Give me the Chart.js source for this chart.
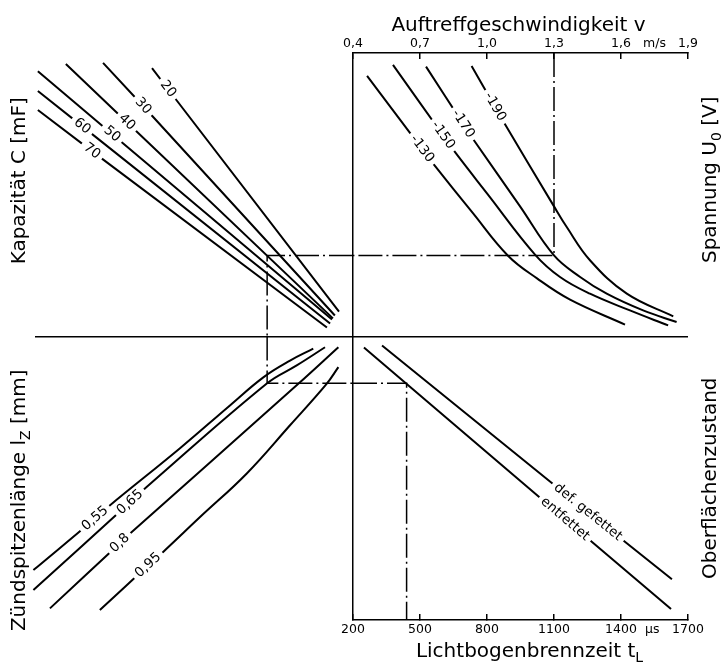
<!DOCTYPE html>
<html>
<head>
<meta charset="utf-8">
<script src="https://cdn.jsdelivr.net/npm/chart.js@4.4.1/dist/chart.umd.min.js"></script>
<style>
  html, body { margin: 0; padding: 0; background: #fff; }
</style>
</head>
<body>
<canvas id="nomogramm" width="725" height="666"></canvas>
<script>
// Skalen (rechte Haelfte); linke Haelfte und Hilfsachsen sind unbeschriftet (0..100)
const vTicks = [0.4, 0.7, 1.0, 1.3, 1.6, 1.9];
const vUnitAt = 1.75;
const tTicks = [200, 500, 800, 1100, 1400, 1700];
const tUnitAt = 1540;

// Beispielablesung (strichpunktiert)
const guideV = 1.3, guideU = 28.6, guideE = 73, guideB = 83.5, guideT = 440;

// oben links: Kapazitaet C [mF]  (x: Hilfsgroesse, y: Spannungsgroesse)
const capLabels = ['20', '30', '40', '50', '60', '70'];
const capCurves = [
  [[36.8, 94.7], [41.8, 87.3], [95.6, 8.8]],
  [[21.4, 96.5], [34.0, 81.3], [94.3, 7.4]],
  [[9.7, 96.1], [28.9, 75.6], [93.7, 6.4]],
  [[0.9, 93.6], [24.2, 71.4], [93.4, 6.0]],
  [[0.9, 86.6], [14.8, 74.2], [92.8, 4.6]],
  [[0.9, 79.9], [17.9, 65.4], [91.8, 3.2]]
];

// oben rechts: Spannung U0 [V]  (x: v in m/s)
const uLabels = ['-130', '-150', '-170', '-190'];
const uCurves = [
  [[0.463, 91.9], [0.709, 66.2], [0.758, 61.1], [0.937, 43.5], [1.094, 28.5], [1.224, 20.5], [1.372, 13.0], [1.618, 4.2]],
  [[0.579, 95.8], [0.803, 71.0], [0.857, 65.0], [1.000, 50.5], [1.215, 28.9], [1.327, 21.0], [1.461, 15.1], [1.640, 9.2], [1.811, 3.9]],
  [[0.727, 95.2], [0.893, 75.0], [0.939, 69.5], [1.148, 45.9], [1.300, 28.6], [1.417, 21.0], [1.536, 15.1], [1.699, 9.2], [1.849, 5.1]],
  [[0.931, 95.4], [1.036, 81.0], [1.072, 76.0], [1.300, 45.9], [1.357, 38.6], [1.461, 26.9], [1.626, 15.1], [1.834, 7.1]]
];

// unten links: Zuendspitzenlaenge lZ [mm]
const lzLabels = ['0,55', '0,65', '0,8', '0,95'];
const lzCurves = [
  [[-0.5, 17.6], [18.9, 35.8], [23.6, 40.5], [45.6, 60.6], [61.3, 75.7], [71.8, 85.6], [80.2, 91.5], [87.5, 95.7]],
  [[-0.5, 10.6], [29.9, 41.5], [35.1, 46.9], [73.0, 83.5], [82.3, 89.8], [91.2, 96.2]],
  [[4.7, 4.1], [26.7, 27.1], [29.9, 30.5], [82.8, 83.3], [95.4, 96.2]],
  [[20.4, 3.5], [35.6, 19.3], [40.3, 24.0], [51.9, 36.3], [66.6, 51.7], [80.2, 68.7], [91.7, 83.3], [95.4, 89.2]]
];

// unten rechts: Oberflaechenzustand  (x: tL in us)
const surfLabels = ['def. gefettet', 'entfettet'];
const surfCurves = [
  [[330, 96.8], [1252, 38.0], [1628, 14.4]],
  [[249, 96.1], [1149, 35.6], [1624, 3.9]]
];

const titleTop = [{ text: 'Auftreffgeschwindigkeit v' }];
const titleBottom = [{ text: 'Lichtbogenbrennzeit t' }, { text: 'L', sub: true }];
const titleLeftTop = [{ text: 'Kapazität C [mF]' }];
const titleLeftBottom = [{ text: 'Zündspitzenlänge l' }, { text: 'Z', sub: true }, { text: ' [mm]' }];
const titleRightTop = [{ text: 'Spannung U' }, { text: '0', sub: true }, { text: ' [V]' }];
const titleRightBottom = [{ text: 'Oberflächenzustand' }];

Chart.defaults.font.family = '"DejaVu Sans", sans-serif';
Chart.defaults.color = '#000';

const clear = 'rgba(0,0,0,0)';

function curve(points, label, xID, yID, smooth) {
  return {
    data: points.map(p => ({ x: p[0], y: p[1] })),
    curveLabel: label,
    xAxisID: xID,
    yAxisID: yID,
    showLine: true,
    borderColor: '#000',
    borderWidth: 2,
    pointRadius: 0,
    tension: smooth ? 0.4 : 0,
    clip: false
  };
}

function guide(points, xID, yID) {
  return {
    data: points.map(p => ({ x: p[0], y: p[1] })),
    xAxisID: xID,
    yAxisID: yID,
    showLine: true,
    borderColor: '#000',
    borderWidth: 1.5,
    borderDash: [24, 4, 2, 4],
    pointRadius: 0,
    tension: 0,
    clip: false
  };
}

const datasets = [];
capCurves.forEach((c, i) => datasets.push(curve(c, capLabels[i], 'xE', 'yA', false)));
uCurves.forEach((c, i) => datasets.push(curve(c, uLabels[i], 'xV', 'yA', true)));
lzCurves.forEach((c, i) => datasets.push(curve(c, lzLabels[i], 'xE', 'yB', true)));
surfCurves.forEach((c, i) => datasets.push(curve(c, surfLabels[i], 'xT', 'yB', false)));
datasets.push(guide([[guideV, 100], [guideV, guideU], [0.4, guideU]], 'xV', 'yA'));
datasets.push(guide([[100, guideU], [guideE, guideU], [guideE, 0]], 'xE', 'yA'));
datasets.push(guide([[guideE, 100], [guideE, guideB], [100, guideB]], 'xE', 'yB'));
datasets.push(guide([[200, guideB], [guideT, guideB], [guideT, 0]], 'xT', 'yB'));

function richText(ctx, parts, x, y, rot) {
  const big = '20px "DejaVu Sans"', small = '14px "DejaVu Sans"';
  let total = 0;
  const widths = parts.map(p => {
    ctx.font = p.sub ? small : big;
    const w = ctx.measureText(p.text).width;
    total += w;
    return w;
  });
  ctx.save();
  ctx.translate(x, y);
  ctx.rotate(rot);
  ctx.fillStyle = '#000';
  ctx.textAlign = 'left';
  ctx.textBaseline = 'middle';
  let cx = -total / 2;
  parts.forEach((p, i) => {
    ctx.font = p.sub ? small : big;
    ctx.fillText(p.text, cx, p.sub ? 6 : 0);
    cx += widths[i];
  });
  ctx.restore();
}

// Kurvenbeschriftung sitzt auf dem zweiten Punkt, in Kurvenrichtung gedreht
const curveLabels = {
  id: 'curveLabels',
  afterDatasetsDraw(chart) {
    const ctx = chart.ctx;
    chart.data.datasets.forEach((ds, i) => {
      if (!ds.curveLabel) return;
      const pts = chart.getDatasetMeta(i).data;
      const a = pts[0], p = pts[1], b = pts[2];
      const ang = Math.atan2(b.y - a.y, b.x - a.x);
      ctx.save();
      ctx.translate(p.x, p.y);
      ctx.rotate(ang);
      ctx.font = '13.5px "DejaVu Sans"';
      const w = ctx.measureText(ds.curveLabel).width;
      ctx.fillStyle = '#fff';
      ctx.fillRect(-w / 2 - 4, -6, w + 8, 12);
      ctx.fillStyle = '#000';
      ctx.textAlign = 'center';
      ctx.textBaseline = 'middle';
      ctx.fillText(ds.curveLabel, 0, 0);
      ctx.restore();
    });
  }
};

const axisTitles = {
  id: 'axisTitles',
  afterDraw(chart) {
    const ctx = chart.ctx;
    const s = chart.scales;
    const midX = sc => (sc.left + sc.right) / 2;
    const midY = sc => (sc.top + sc.bottom) / 2;
    richText(ctx, titleTop, midX(s.xV) - 2, 26, 0);
    richText(ctx, titleBottom, midX(s.xT) + 9, 652, 0);
    richText(ctx, titleLeftTop, 20, midY(s.yA) - 14, -Math.PI / 2);
    richText(ctx, titleLeftBottom, 20, midY(s.yB) + 22, -Math.PI / 2);
    richText(ctx, titleRightTop, 711, midY(s.yA) - 15, -Math.PI / 2);
    richText(ctx, titleRightBottom, 711, midY(s.yB), -Math.PI / 2);
  }
};

const hidden = {
  ticks: { display: false },
  grid: { display: false },
  border: { display: false }
};

// Stapelreihenfolge: oben/links wird die zuletzt definierte Achse zuerst platziert,
// unten/rechts die zuerst definierte
new Chart(document.getElementById('nomogramm'), {
  type: 'scatter',
  data: { datasets: datasets },
  plugins: [curveLabels, axisTitles],
  options: {
    responsive: false,
    animation: false,
    layout: { padding: { left: 35, right: 22, top: 0, bottom: 0 } },
    plugins: { legend: { display: false }, tooltip: { enabled: false } },
    scales: {
      xV: {
        type: 'linear', position: 'top', stack: 'oben', stackWeight: 335, min: 0.4, max: 1.9,
        afterBuildTicks: sc => { sc.ticks = vTicks.concat([vUnitAt]).sort((a, b) => a - b).map(v => ({ value: v })); },
        ticks: {
          autoSkip: false, maxRotation: 0, padding: 8, font: { size: 12.5 },
          callback: v => v === vUnitAt ? 'm/s' : v.toFixed(1).replace('.', ',')
        },
        grid: {
          color: c => c.tick && c.tick.value === 0.4 ? '#000' : clear,
          tickColor: c => c.tick && c.tick.value === vUnitAt ? clear : '#000',
          lineWidth: 1.5, tickLength: -6
        },
        border: { display: true, color: '#000', width: 1.5 },
        afterFit: sc => { sc.height = 53; }
      },
      xE: Object.assign({ type: 'linear', position: 'top', stack: 'oben', stackWeight: 318, min: 0, max: 100,
        afterFit: sc => { sc.height = 53; } }, hidden),
      xEb: Object.assign({ type: 'linear', position: 'bottom', stack: 'unten', stackWeight: 318, min: 0, max: 100,
        afterFit: sc => { sc.height = 46; } }, hidden),
      xT: {
        type: 'linear', position: 'bottom', stack: 'unten', stackWeight: 335, min: 200, max: 1700,
        afterBuildTicks: sc => { sc.ticks = tTicks.concat([tUnitAt]).sort((a, b) => a - b).map(v => ({ value: v })); },
        ticks: {
          autoSkip: false, maxRotation: 0, padding: 8, font: { size: 12.5 },
          callback: v => v === tUnitAt ? 'µs' : String(v)
        },
        grid: {
          color: clear,
          tickColor: c => c.tick && c.tick.value === tUnitAt ? clear : '#000',
          lineWidth: 1.5, tickLength: -6
        },
        border: { display: true, color: '#000', width: 1.5 },
        afterFit: sc => { sc.height = 46; }
      },
      yB: Object.assign({ type: 'linear', position: 'left', stack: 'links', stackWeight: 1, min: 0, max: 100,
        afterFit: sc => { sc.width = 0; } }, hidden),
      yA: {
        type: 'linear', position: 'left', stack: 'links', stackWeight: 1, min: 0, max: 100,
        ticks: { display: false },
        grid: { color: c => c.tick && c.tick.value === 0 ? '#000' : clear, lineWidth: 1.5, drawTicks: false },
        border: { display: false },
        afterFit: sc => { sc.width = 0; }
      },
      yC: Object.assign({ type: 'linear', position: 'right', stack: 'rechts', stackWeight: 1, min: 0, max: 100,
        afterFit: sc => { sc.width = 15; } }, hidden),
      yD: Object.assign({ type: 'linear', position: 'right', stack: 'rechts', stackWeight: 1, min: 0, max: 100,
        afterFit: sc => { sc.width = 15; } }, hidden)
    }
  }
});
</script>
</body>
</html>
